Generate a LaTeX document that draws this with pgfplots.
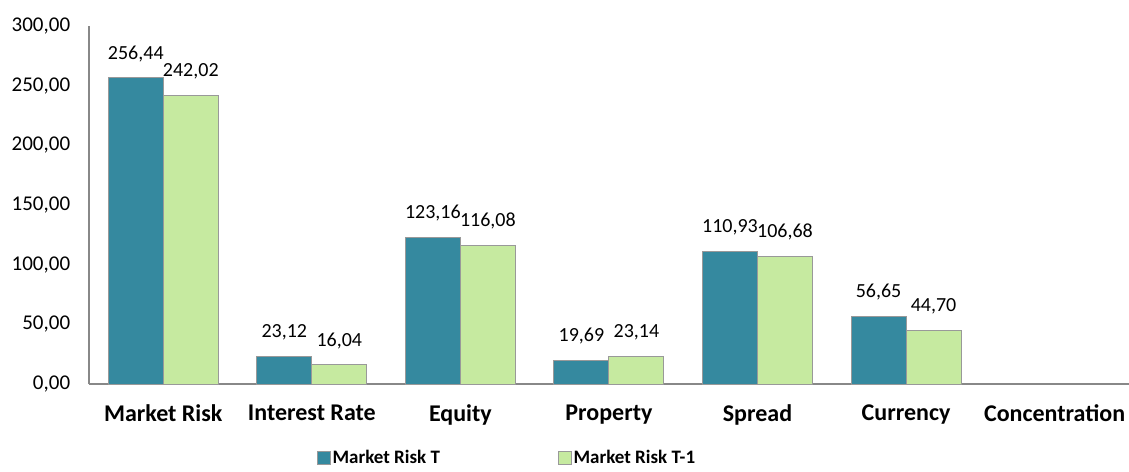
\documentclass[border=0pt]{standalone}
\usepackage{pgfplots}
\pgfplotsset{compat=1.18}
\usepackage{fontspec}
\setmainfont{Carlito}
\definecolor{barT}{HTML}{35899F}
\definecolor{barT1}{HTML}{C6EAA0}
\definecolor{axgray}{HTML}{888888}
\begin{document}
\fontsize{20}{24}\selectfont
\begin{tikzpicture}
\path[use as bounding box] (-89pt,-87pt) rectangle (1040pt,384pt);
\begin{axis}[
  at={(0pt,0pt)}, anchor=south west,
  scale only axis, width=1040pt, height=358pt,
  ybar=0pt, bar width=55pt,
  xmin=-0.5, xmax=6.5, ymin=0, ymax=300,
  axis x line=bottom, axis y line=left,
  axis line style={-, draw=axgray, line width=1.3pt},
  major tick length=0pt,
  xtick={0,1,2,3,4,5,6},
  xticklabels={Market Risk, Interest Rate, Equity, Property, Spread, Currency, Concentration},
  xticklabel style={font=\fontsize{24}{28}\selectfont\bfseries, yshift=-14pt},
  ytick={0,50,100,150,200,250,300},
  yticklabel style={font=\fontsize{21}{24}\selectfont, xshift=-12pt},
  /pgf/number format/.cd, fixed, fixed zerofill, precision=2, use comma, 1000 sep={}, assume math mode=true,
  /pgfplots/.cd,
  nodes near coords,
  nodes near coords style={font=\fontsize{20}{24}\selectfont, anchor=south, yshift=9pt,
    /pgf/number format/.cd, fixed, fixed zerofill, precision=2, use comma, assume math mode=true},
  legend style={at={(0.402,0)}, anchor=center, yshift=-74pt, draw=none, fill=none,
    font=\fontsize{19}{22}\selectfont\bfseries, legend columns=2,
    /tikz/every even column/.append style={column sep=116pt}},
  legend image code/.code={\draw[#1, line width=0.6pt] (0pt,-6pt) rectangle (13pt,7pt);},
  clip=false,
]
\addplot[fill=barT, draw=gray!80, line width=1pt] coordinates {
  (0,256.44) (1,23.12) (2,123.16) (3,19.69) (4,110.93) (5,56.65)};
\addplot[fill=barT1, draw=gray!80, line width=1pt] coordinates {
  (0,242.02) (1,16.04) (2,116.08) (3,23.14) (4,106.68) (5,44.70)};
\legend{Market Risk T, Market Risk T-1}
\end{axis}
\end{tikzpicture}
\end{document}
